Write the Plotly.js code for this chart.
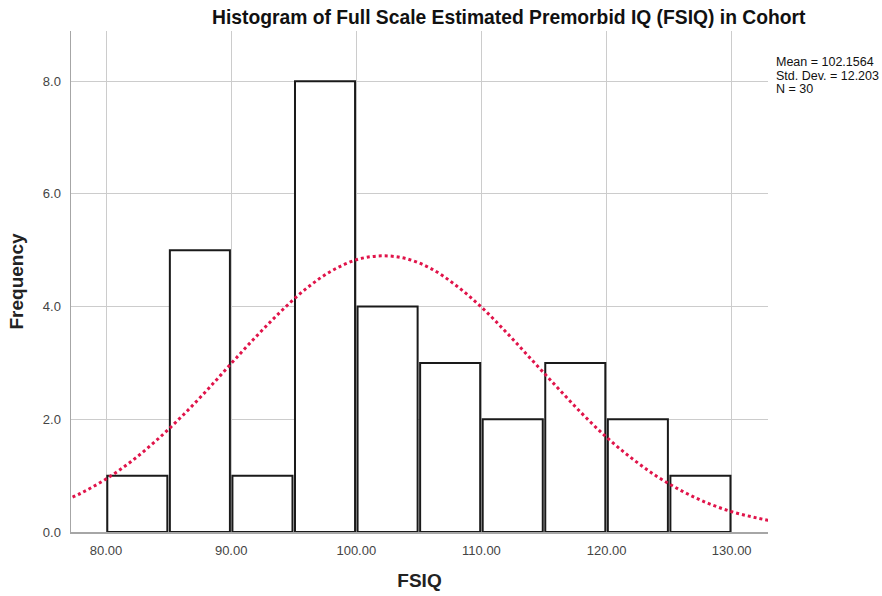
<!DOCTYPE html>
<html>
<head>
<meta charset="utf-8">
<script src="https://cdn.plot.ly/plotly-3.0.1.min.js"></script>
<style>html,body{margin:0;padding:0;background:#fff;}#chart{width:882px;height:596px;}</style>
</head>
<body>
<div id="chart"></div>
<script>
// Histogram bins (FSIQ, width 5) and counts
const binCenters = [82.5, 87.5, 92.5, 97.5, 102.5, 107.5, 112.5, 117.5, 122.5, 127.5];
const binCounts  = [1, 5, 1, 8, 4, 3, 2, 3, 2, 1];

// Normal curve
const curveX = [76, 78, 80, 82, 84, 86, 88, 90, 92, 94, 96, 98, 100, 102, 104, 106, 108, 110, 112, 114, 116, 118, 120, 122, 124, 126, 128, 130, 132, 134];
const curveY = [0.49, 0.69, 0.94, 1.25, 1.62, 2.04, 2.50, 2.99, 3.47, 3.92, 4.32, 4.63, 4.83, 4.90, 4.85, 4.67, 4.37, 3.99, 3.54, 3.06, 2.58, 2.11, 1.68, 1.31, 0.99, 0.73, 0.52, 0.36, 0.25, 0.16];

const xTicks = [80, 90, 100, 110, 120, 130];
const yTicks = [0, 2, 4, 6, 8];
const statsLines = ["Mean = 102.1564", "Std. Dev. = 12.203", "N = 30"];

const FONT = "Liberation Sans, Arial, sans-serif";

const traces = [
  {
    type: "bar",
    x: binCenters,
    y: binCounts,
    width: 4.8,
    marker: {color: "#ffffff", line: {color: "#1a1a1a", width: 2}},
    hoverinfo: "x+y",
    showlegend: false
  },
  {
    type: "scatter",
    mode: "lines",
    x: curveX,
    y: curveY,
    line: {color: "#e0144a", width: 3, dash: "dot", shape: "spline"},
    showlegend: false
  }
];

const statsY = [0.938, 0.911, 0.884];

const layout = {
  width: 882,
  height: 596,
  margin: {l: 71, r: 114, t: 31, b: 64},
  paper_bgcolor: "#ffffff",
  plot_bgcolor: "#ffffff",
  font: {family: FONT, color: "#333333", size: 13},
  title: {
    text: "<b>Histogram of Full Scale Estimated Premorbid IQ (FSIQ) in Cohort</b>",
    font: {family: FONT, size: 19.3, color: "#111111"},
    x: 0.628, xref: "paper", xanchor: "center",
    y: 0.971, yref: "container", yanchor: "middle"
  },
  xaxis: {
    range: [77.2, 132.9],
    tickvals: xTicks,
    ticktext: xTicks.map(v => v.toFixed(2)),
    showgrid: true,
    gridcolor: "#cccccc",
    gridwidth: 1,
    showline: true,
    linecolor: "#a6a6a6",
    linewidth: 1.5,
    zeroline: false,
    ticks: "",
    ticklabelstandoff: 6,
    tickfont: {family: FONT, size: 13, color: "#444444"},
    title: {text: "<b>FSIQ</b>", font: {family: FONT, size: 19, color: "#222222"}, standoff: 16}
  },
  yaxis: {
    range: [0, 8.89],
    tickvals: yTicks,
    ticktext: yTicks.map(v => v.toFixed(1)),
    showgrid: true,
    gridcolor: "#cccccc",
    gridwidth: 1,
    showline: true,
    linecolor: "#a6a6a6",
    linewidth: 1.5,
    zeroline: false,
    ticks: "",
    ticklabelstandoff: 6,
    tickfont: {family: FONT, size: 13, color: "#444444"},
    title: {text: "<b>Frequency</b>", font: {family: FONT, size: 19, color: "#222222"}, standoff: 14}
  },
  bargap: 0,
  annotations: statsLines.map((t, i) => ({
    xref: "paper", yref: "paper",
    x: 1.009, y: statsY[i],
    xanchor: "left", yanchor: "middle", align: "left",
    showarrow: false,
    text: t,
    font: {family: FONT, size: 12.5, color: "#111111"}
  }))
};

Plotly.newPlot("chart", traces, layout, {displayModeBar: false, staticPlot: true});
</script>
</body>
</html>
